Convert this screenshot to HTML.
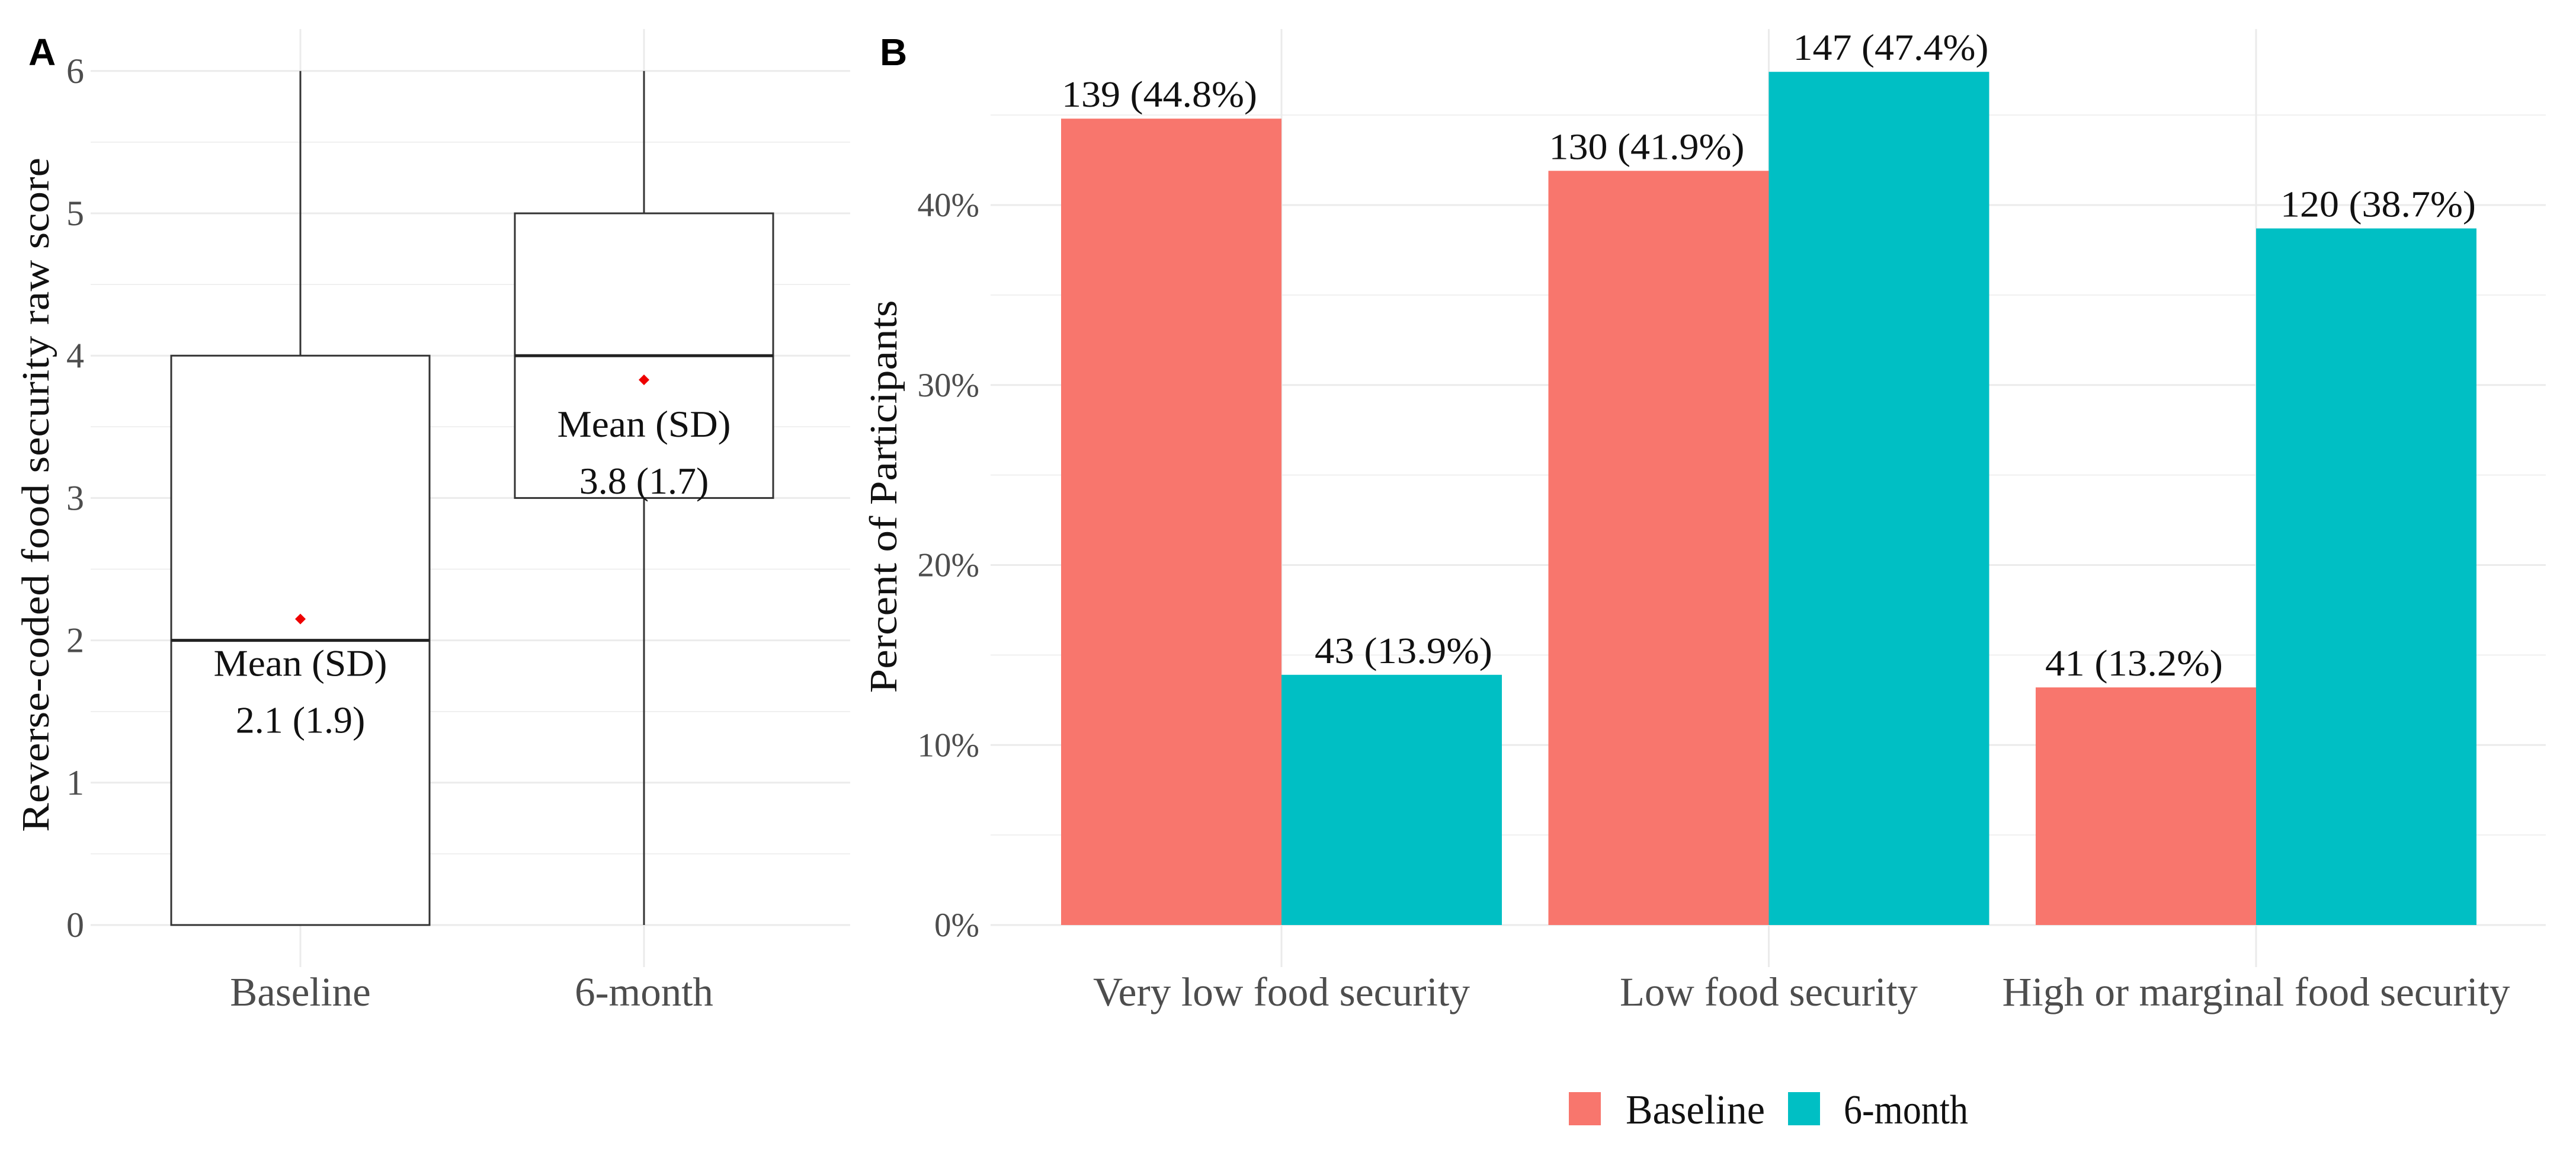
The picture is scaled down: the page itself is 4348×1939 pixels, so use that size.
<!DOCTYPE html>
<html><head><meta charset="utf-8"><style>
html,body{margin:0;padding:0;background:#fff;}
svg{display:block;font-family:"Liberation Serif",serif;}
</style></head><body>
<svg id="fig" width="4348" height="1939" viewBox="0 0 4348 1939" xmlns="http://www.w3.org/2000/svg">
<g id="pa"></g>
<g id="pb"></g>
</svg>
<script>
// Panel A data
const boxGroups = ["Baseline", "6-month"];
const boxLower = [0, 0];
const boxQ1 = [0, 3];
const boxMedian = [2, 4];
const boxQ3 = [4, 5];
const boxUpper = [6, 6];
const boxMeans = [2.15, 3.83];
const meanLabels = ["2.1 (1.9)", "3.8 (1.7)"];
const aTicks = [0, 1, 2, 3, 4, 5, 6];

// Panel B data
const categories = ["Very low food security", "Low food security", "High or marginal food security"];
const baselinePct = [44.8, 41.9, 13.2];
const sixMonthPct = [13.9, 47.4, 38.7];
const baselineN = [139, 130, 41];
const sixMonthN = [43, 147, 120];
const bTicks = [0, 10, 20, 30, 40];
const seriesNames = ["Baseline", "6-month"];

const NS = "http://www.w3.org/2000/svg";
function mk(parent, tag, attrs, text) {
  const e = document.createElementNS(NS, tag);
  for (const k in attrs) e.setAttribute(k, attrs[k]);
  if (text !== undefined) e.textContent = text;
  parent.appendChild(e);
  return e;
}

// ---------- Panel A ----------
const pa = document.getElementById('pa');
const ayScale = v => 1561 - v * 240.2;
const axScale = i => 507 + i * 580;
for (let v = 0; v <= 6; v += 0.5) {
  const l = mk(pa, 'line', {x1: 153, x2: 1435, y1: ayScale(v), y2: ayScale(v), stroke: '#ebebeb', 'stroke-width': Number.isInteger(v) ? 3 : 1.5});
  
  
}
boxGroups.forEach((g, i) => {
  const l = mk(pa, 'line', {x1: axScale(i), x2: axScale(i), y1: 49, y2: 1632, stroke: '#ebebeb', 'stroke-width': 3});
  
  
});
aTicks.forEach(t => {
  const tx = mk(pa, 'text', {x: 127, y: ayScale(t) + 20, 'text-anchor': 'middle', 'font-size': 60, fill: '#4d4d4d'}, String(t));
  
  
});
boxGroups.forEach((g, i) => {
  const cx = axScale(i), hw = 218;
  const grp = mk(pa, 'g', {});
  
  
  mk(grp, 'line', {x1: cx, x2: cx, y1: ayScale(boxUpper[i]), y2: ayScale(boxQ3[i]), stroke: '#333', 'stroke-width': 3});
  mk(grp, 'line', {x1: cx, x2: cx, y1: ayScale(boxQ1[i]), y2: ayScale(boxLower[i]), stroke: '#333', 'stroke-width': 3});
  mk(grp, 'rect', {x: cx - hw, y: ayScale(boxQ3[i]), width: hw * 2, height: ayScale(boxQ1[i]) - ayScale(boxQ3[i]), fill: '#fff', stroke: '#333', 'stroke-width': 3});
  mk(grp, 'line', {x1: cx - hw, x2: cx + hw, y1: ayScale(boxMedian[i]), y2: ayScale(boxMedian[i]), stroke: '#222', 'stroke-width': 5});
  const my = ayScale(boxMeans[i]);
  const d = mk(pa, 'path', {d: `M${cx} ${my-9} L${cx+9} ${my} L${cx} ${my+9} L${cx-9} ${my} Z`, fill: '#ee0000'});
  
  
  const t1 = mk(pa, 'text', {x: cx, y: my + 96, 'text-anchor': 'middle', 'font-size': 64, fill: '#111', textLength: 293, lengthAdjust: 'spacingAndGlyphs'}, 'Mean (SD)');
  
  
  const t2 = mk(pa, 'text', {x: cx, y: my + 192, 'text-anchor': 'middle', 'font-size': 64, fill: '#111'}, meanLabels[i]);
  
  
  const xl = mk(pa, 'text', {x: cx, y: 1697, 'text-anchor': 'middle', 'font-size': 69, fill: '#4d4d4d'}, g);
  
  
});
const ayt = mk(pa, 'text', {x: 0, y: 0, transform: 'translate(82,835) rotate(-90)', 'text-anchor': 'middle', 'font-size': 66, fill: '#111', textLength: 1138, lengthAdjust: 'spacingAndGlyphs'}, 'Reverse-coded food security raw score');


const la = mk(pa, 'text', {x: 48, y: 110, 'font-size': 64, 'font-weight': 'bold', 'font-family': '"Liberation Sans",sans-serif', fill: '#000'}, 'A');



// ---------- Panel B ----------
const pb = document.getElementById('pb');
const byScale = v => 1561 - v * 30.375;
const bxCenter = i => 2163 + i * 822.5;
const barW = 372;
for (let v = 0; v <= 45; v += 5) {
  const l = mk(pb, 'line', {x1: 1672, x2: 4297, y1: byScale(v), y2: byScale(v), stroke: '#ebebeb', 'stroke-width': v % 10 === 0 ? 3 : 1.5});
  
  
}
categories.forEach((c, i) => {
  const l = mk(pb, 'line', {x1: bxCenter(i), x2: bxCenter(i), y1: 49, y2: 1632, stroke: '#ebebeb', 'stroke-width': 3});
  
  
});
bTicks.forEach(t => {
  const tx = mk(pb, 'text', {x: 1653, y: byScale(t) + 19, 'text-anchor': 'end', 'font-size': 57, fill: '#4d4d4d'}, t + '%');
  
  
});
const catW = [636, 503, 857];
const series = [baselinePct, sixMonthPct];
const counts = [baselineN, sixMonthN];
const colors = ['#F8766D', '#00BFC4'];
categories.forEach((c, i) => {
  series.forEach((s, j) => {
    const x = bxCenter(i) + (j === 0 ? -barW : 0);
    const r = mk(pb, 'rect', {x: x, y: byScale(s[i]), width: barW, height: byScale(0) - byScale(s[i]), fill: colors[j]});
    
    
    const lx = x + barW / 2 + (j === 0 ? -20 : 20);
    const t = mk(pb, 'text', {x: lx, y: byScale(s[i]) - 20, 'text-anchor': 'middle', 'font-size': 62, fill: '#111', textLength: 330 - (counts[j][i] < 100 ? 30 : 0), lengthAdjust: 'spacingAndGlyphs'}, counts[j][i] + ' (' + s[i].toFixed(1) + '%)');
    
    
  });
  const xl = mk(pb, 'text', {x: bxCenter(i), y: 1697, 'text-anchor': 'middle', 'font-size': 69, fill: '#4d4d4d', textLength: catW[i], lengthAdjust: 'spacingAndGlyphs'}, c);
  
  
});
const byt = mk(pb, 'text', {x: 0, y: 0, transform: 'translate(1513,838) rotate(-90)', 'text-anchor': 'middle', 'font-size': 66, fill: '#111', textLength: 663, lengthAdjust: 'spacingAndGlyphs'}, 'Percent of Participants');


const lb = mk(pb, 'text', {x: 1485, y: 110, 'font-size': 64, 'font-weight': 'bold', 'font-family': '"Liberation Sans",sans-serif', fill: '#000'}, 'B');



const legX = [2648, 3018];
const legTX = [2744, 3112];
const legW = [235, 210];
seriesNames.forEach((n, j) => {
  const g = mk(pb, 'g', {});
  
  
  mk(g, 'rect', {x: legX[j], y: 1843, width: 54, height: 56, fill: colors[j]});
  mk(g, 'text', {x: legTX[j], y: 1896, 'font-size': 70, fill: '#111', textLength: legW[j], lengthAdjust: 'spacingAndGlyphs'}, n);
});
</script>
</body></html>
